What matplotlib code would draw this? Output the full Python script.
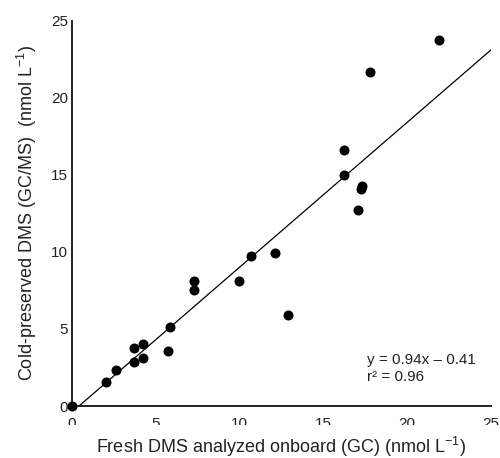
import matplotlib
matplotlib.use("Agg")
import matplotlib.pyplot as plt
import numpy as np
from matplotlib.patches import Rectangle

plt.rcParams['font.family'] = ['Liberation Sans', 'DejaVu Sans']
plt.rcParams['mathtext.fontset'] = 'custom'
plt.rcParams['mathtext.rm'] = 'Liberation Sans'
plt.rcParams['mathtext.default'] = 'regular'

# Data
fresh_dms = [0.0, 2.05, 2.64, 3.74, 3.74, 4.23, 4.25, 5.73, 5.85, 7.28, 7.28,
             9.96, 10.72, 12.13, 12.9, 16.25, 16.25, 17.06, 17.30, 17.26, 17.8, 21.92]
cold_dms = [0.0, 1.58, 2.33, 2.87, 3.78, 4.02, 3.11, 3.59, 5.12, 7.52, 8.13,
            8.09, 9.75, 9.94, 5.9, 16.62, 15.0, 12.71, 14.29, 14.09, 21.66, 23.78]
slope = 0.94
intercept = -0.41
r2 = 0.96
ticks = [0, 5, 10, 15, 20, 25]

fig = plt.figure(figsize=(5.0, 4.58), dpi=100)
ax = fig.add_axes([0.1434, 0.1135, 0.8380, 0.8413])

ax.plot(fresh_dms, cold_dms, 'o', color='black', markersize=6.2, clip_on=False, zorder=3)

x0 = -intercept / slope
xl = np.array([x0, 25.0])
ax.plot(xl, slope * xl + intercept, color='black', linewidth=0.9, zorder=2)

ax.set_xlim(0, 25)
ax.set_ylim(0, 25)
ax.set_xticks(ticks)
ax.set_yticks(ticks)
ax.set_xticklabels([str(t) for t in ticks])
ax.set_yticklabels([str(t) for t in ticks])
ax.tick_params(axis='both', length=0, labelsize=11, colors='#222222')
ax.tick_params(axis='x', pad=7.8)
ax.tick_params(axis='y', pad=2.5)

for s in ['top', 'right']:
    ax.spines[s].set_visible(False)
for s in ['left', 'bottom']:
    ax.spines[s].set_linewidth(1.3)
    ax.spines[s].set_color('#111111')

ax.set_xlabel('Fresh DMS analyzed onboard (GC) (nmol L$^{-1}$)', fontsize=13,
              color='#222222', labelpad=3)
ax.set_ylabel('Cold-preserved DMS (GC/MS)  (nmol L$^{-1}$)', fontsize=13,
              color='#222222', labelpad=8.5)

ax.text(17.64, 2.72, 'y = 0.94x \u2013 0.41', fontsize=11, va='baseline', ha='left',
        color='#222222')
ax.text(17.64, 1.64, 'r\u00b2 = %.2f' % r2, fontsize=11, va='baseline', ha='left',
        color='#222222')

# the reference shows the lower part of the x tick labels cut off
fig.patches.append(Rectangle((0.0, (458 - 433) / 458), 1.0, 8 / 458,
                             transform=fig.transFigure, facecolor='white',
                             edgecolor='none', zorder=10))

fig.savefig('out.png', dpi=100)
